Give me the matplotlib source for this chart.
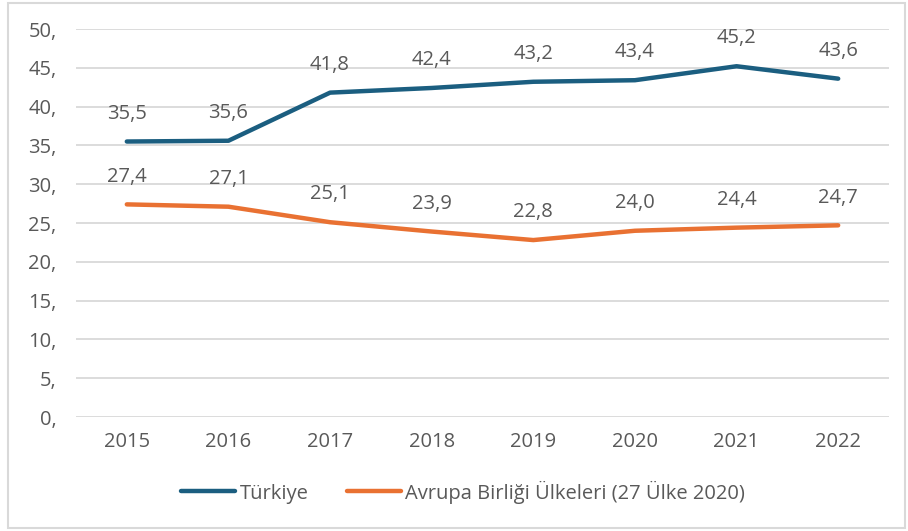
import matplotlib.pyplot as plt
from matplotlib.patches import Rectangle

# Données
years = ['2015', '2016', '2017', '2018', '2019', '2020', '2021', '2022']
turkiye = [35.5, 35.6, 41.8, 42.4, 43.2, 43.4, 45.2, 43.6]
ab27 = [27.4, 27.1, 25.1, 23.9, 22.8, 24.0, 24.4, 24.7]
y_ticks = [0, 5, 10, 15, 20, 25, 30, 35, 40, 45, 50]

blue = '#1b5e80'
orange = '#e97132'
grey = '#595959'
fs = 14.5

plt.rcParams['font.family'] = ['Open Sans', 'DejaVu Sans']

fig = plt.figure(figsize=(9.08, 5.31), dpi=100)
ax = fig.add_axes([76 / 908, 114 / 531, 813 / 908, 388 / 531])

x = list(range(len(years)))
ax.plot(x, turkiye, color=blue, lw=3.2, solid_capstyle='round', label='Türkiye')
ax.plot(x, ab27, color=orange, lw=3.2, solid_capstyle='round',
        label='Avrupa Birliği Ülkeleri (27 Ülke 2020)')

# Étiquettes des valeurs
for serie in (turkiye, ab27):
    for xi, v in zip(x, serie):
        ax.annotate(f'{v:.1f}'.replace('.', ','), (xi, v), xytext=(0, 20),
                    textcoords='offset points', ha='center', va='center',
                    fontsize=fs, color=grey)

ax.set_xlim(-0.5, len(years) - 0.5)
ax.set_ylim(0, 50)
ax.set_xticks(x)
ax.set_xticklabels(years)
ax.set_yticks(y_ticks)
ax.set_yticklabels([f'{t},' for t in y_ticks])
ax.tick_params(axis='both', length=0, labelsize=fs, colors=grey)
ax.tick_params(axis='y', pad=14)
ax.tick_params(axis='x', pad=11)
ax.grid(axis='y', color='#d9d9d9', lw=1.3)
ax.set_axisbelow(True)
for s in ax.spines.values():
    s.set_visible(False)

leg = fig.legend(loc='center', bbox_to_anchor=(463 / 908, 1 - 492 / 531), ncol=2,
                 frameon=False, fontsize=fs, handlelength=2.7, handletextpad=0.2,
                 columnspacing=1.9)
for t in leg.get_texts():
    t.set_color(grey)

# Cadre
fig.patches.append(Rectangle((8 / 908, 3 / 531), 897 / 908, 525 / 531,
                             transform=fig.transFigure, fill=False,
                             edgecolor='#d9d9d9', lw=1.5))

fig.savefig('out.png', dpi=100)
